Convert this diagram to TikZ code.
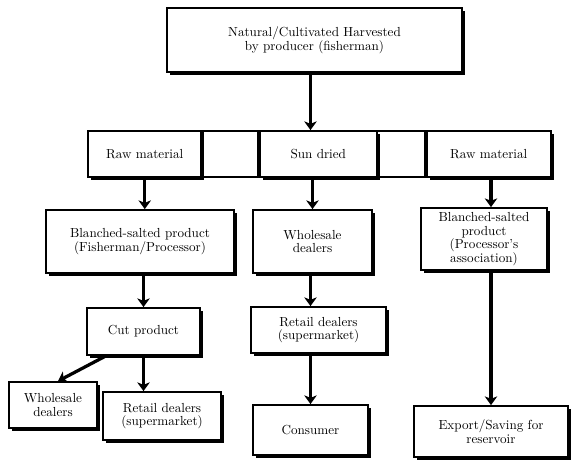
\documentclass[tikz,border=0pt]{standalone}
\usepackage{tikz}
\usetikzlibrary{positioning, arrows.meta, shadows}

\begin{document}
\begin{tikzpicture}[
    x=0.8pt, y=-0.8pt,
    font=\fontsize{10.5}{11}\selectfont,
    stepbox/.style={rectangle, draw=black, line width=1.4pt, fill=white, align=center,
        inner sep=1pt,
        drop shadow={shadow xshift=2.4pt, shadow yshift=-2.4pt, opacity=1, fill=black}},
    gapbox/.style={rectangle, draw=black, line width=1.4pt, minimum height=36.8pt},
    flow/.style={line width=2.6pt, -{Stealth[width=10pt, length=7pt, inset=2pt]}},
]
\useasboundingbox (0,0) rectangle (580,471);

% producer
\node[stepbox, minimum width=236pt, minimum height=51.2pt](harvest) at (314.5,40)
    {Natural/Cultivated Harvested\\by producer (fisherman)};

% second row, one long strip
\node[gapbox, minimum width=44pt](gapa) at (230.5,154){};
\node[gapbox, minimum width=40pt](gapb) at (400,154){};
\node[stepbox, minimum width=90.4pt, minimum height=36.8pt](raw1)[left = 0cm of gapa]{Raw material};
\node[stepbox, minimum width=93.6pt, minimum height=36.8pt](sun)[right = 0cm of gapa]{Sun dried};
\node[stepbox, minimum width=99.2pt, minimum height=36.8pt](raw2)[right = 0cm of gapb]{Raw material};

% third row
\node[stepbox, minimum width=150.4pt, minimum height=50.4pt](blanch1) at (140,241.5)
    {Blanched-salted product\\(Fisherman/Processor)};
\node[stepbox, minimum width=95.2pt, minimum height=50.4pt](whole1) at (312.5,241.5)
    {Wholesale\\dealers};
\node[stepbox, minimum width=100.8pt, minimum height=49.6pt](blanch2) at (484,239)
    {Blanched-salted\\product\\(Processor's\\association)};

% fourth row
\node[stepbox, minimum width=90.4pt, minimum height=37.6pt](cut) at (143.5,331.5){Cut product};
\node[stepbox, minimum width=108pt, minimum height=36.8pt](retail1) at (318.5,330)
    {Retail dealers\\(supermarket)};

% last row
\node[stepbox, minimum width=70.4pt, minimum height=36.8pt](whole2) at (53,405)
    {Wholesale\\dealers};
\node[stepbox, minimum width=94.4pt, minimum height=38.4pt](retail2) at (162,416)
    {Retail dealers\\(supermarket)};
\node[stepbox, minimum width=92pt, minimum height=40pt](consumer) at (310.5,430){Consumer};
\node[stepbox, minimum width=123.2pt, minimum height=40.8pt](export) at (491,431.5)
    {Export/Saving for\\reservoir};

% arrows
\coordinate (harvestout) at (harvest.south -| consumer.north);
\draw[flow] (harvestout) -- (harvestout |- sun.north);
\draw[flow] (raw1.south) -- (raw1.south |- blanch1.north);
\draw[flow] (sun.south -| whole1.north) -- (whole1.north);
\draw[flow] (raw2.south -| export.north) -- (export.north |- blanch2.north);
\draw[flow] (blanch1.south -| cut.north) -- (cut.north);
\draw[flow] (whole1.south -| consumer.north) -- (consumer.north |- retail1.north);
\draw[flow] (blanch2.south -| export.north) -- (export.north);
\draw[flow] (retail1.south -| consumer.north) -- (consumer.north);
\draw[flow] (cut.south) -- (cut.south |- retail2.north);
\draw[flow] ([xshift=-30pt]cut.south) -- ([xshift=4pt]whole2.north);
\end{tikzpicture}
\end{document}
